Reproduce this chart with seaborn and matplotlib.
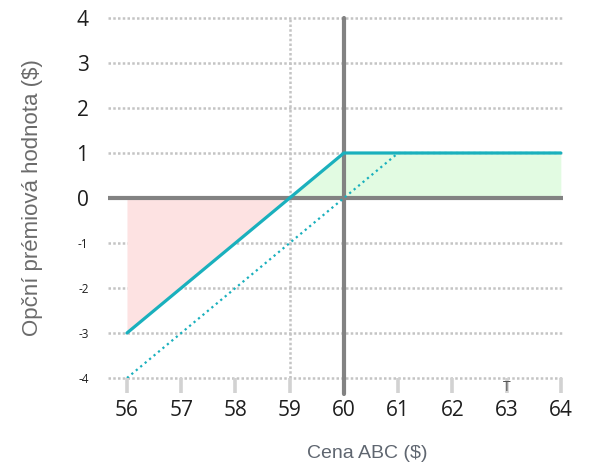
import pandas as pd
import matplotlib.pyplot as plt
import seaborn as sns

# data
price = [56, 59, 60, 64]
premium = [-3, 0, 1, 1]
price_shift = [56, 60, 61, 64]
premium_shift = [-4, 0, 1, 1]
x_ticks = [56, 57, 58, 59, 60, 61, 62, 63, 64]
y_ticks = [4, 3, 2, 1, 0, -1, -2, -3, -4]

teal = "#1ab0bd"
grid_col = "#c4c4c4"
axis_col = "#828282"

sns.set_style("white")
plt.rcParams["font.family"] = ["Open Sans", "DejaVu Sans"]

fig = plt.figure(figsize=(5.93, 4.75), dpi=100)
ax = fig.add_axes([108 / 593, 1 - 378 / 475, (563 - 108) / 593, (378 - 18) / 475])

df = pd.DataFrame({"price": price, "premium": premium})
df_shift = pd.DataFrame({"price": price_shift, "premium": premium_shift})

# shaded loss / profit regions
loss = df[df["price"] <= 59]
gain = df[df["price"] >= 59]
ax.fill_between(loss["price"], loss["premium"], 0, color="#fde2e2", lw=0, zorder=1)
ax.fill_between(gain["price"], gain["premium"], 0, color="#e2fbe2", lw=0, zorder=1)

# grid
for y in y_ticks:
    if y != 0:
        ax.axhline(y, color=grid_col, ls=(0, (1, 0.9)), lw=1.8, zorder=0, clip_on=False)
ax.axvline(59, color=grid_col, ls=(0, (1, 0.9)), lw=1.8, zorder=2)

# axes through origin
ax.axhline(0, color=axis_col, lw=3, zorder=3)
ax.plot([60, 60], [4, -4.35], color=axis_col, lw=3, zorder=3, clip_on=False)

sns.lineplot(data=df_shift, x="price", y="premium", ax=ax, color=teal, lw=1.6,
             linestyle=(0, (1, 1.6)), zorder=4)
sns.lineplot(data=df, x="price", y="premium", ax=ax, color=teal, lw=2.3, zorder=5)

ax.set_xlim(55.65, 64.04)
ax.set_ylim(-4, 4)
for s in ax.spines.values():
    s.set_visible(False)

ax.set_xticks(x_ticks)
ax.set_xticklabels([str(v) for v in x_ticks], fontsize=15, color="#1e1e1e")
ax.tick_params(axis="x", bottom=True, length=11, width=2.6, color="#d2d2d2", pad=5,
               direction="out")
ax.set_yticks(y_ticks)
ax.set_yticklabels([str(v) for v in y_ticks], color="#1e1e1e")
for lab, v in zip(ax.get_yticklabels(), y_ticks):
    lab.set_fontsize(15 if v >= 0 else 8.5)
ax.tick_params(axis="y", left=False, length=0, pad=14)

ax.set_xlabel("Cena ABC ($)", fontsize=14, color="#5f6670",
              family=["Liberation Sans", "DejaVu Sans"])
ax.xaxis.set_label_coords((367 - 108) / (563 - 108), -0.185)
ax.set_ylabel("Opční prémiová hodnota ($)", fontsize=16, color="#6b6b6b",
              family=["Liberation Sans", "DejaVu Sans"])
ax.yaxis.set_label_coords(-(108 - 43) / (563 - 108), 0.5)
ax.text(63, -4.05, "T", fontsize=10, color="#555555", ha="center", va="top")

fig.savefig("out.png", dpi=100)
